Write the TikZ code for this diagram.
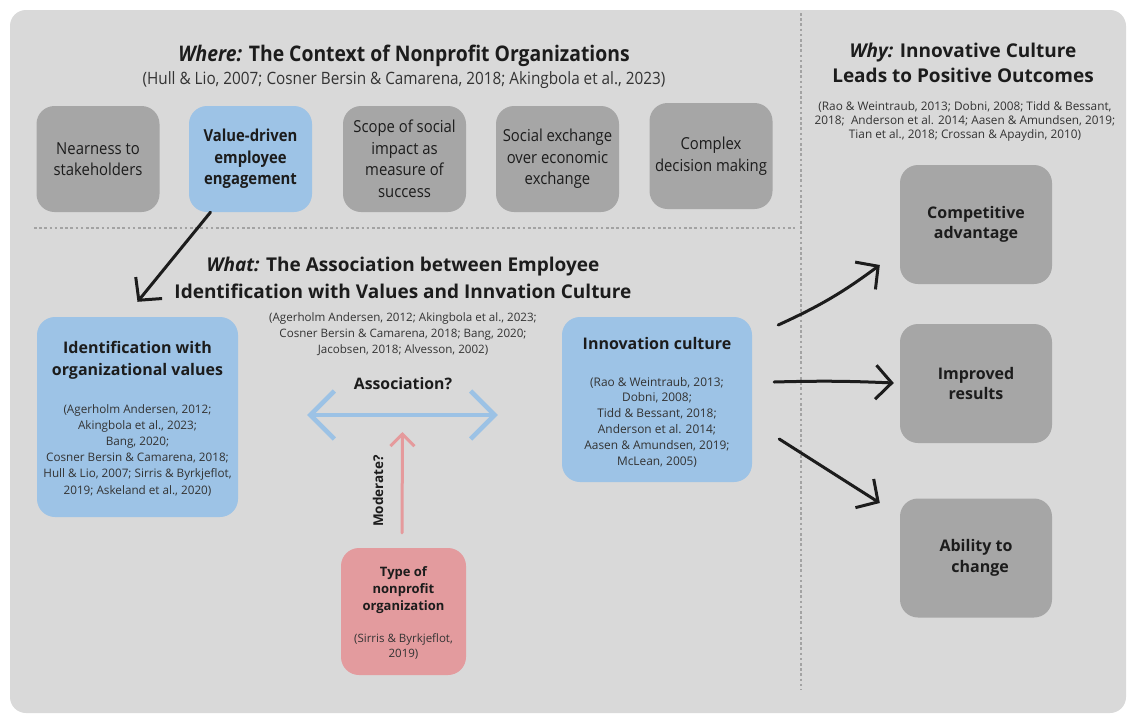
\documentclass[tikz,border=0pt]{standalone}
\usepackage{fontspec}
\setmainfont{Open Sans}
\newfontfamily\condfont[FakeStretch=0.9]{Open Sans}
\usetikzlibrary{arrows.meta,calc}

\definecolor{panel}{HTML}{D9D9D9}
\definecolor{boxgray}{HTML}{A6A6A6}
\definecolor{boxblue}{HTML}{9DC3E6}
\definecolor{boxred}{HTML}{E39B9E}
\definecolor{ink}{HTML}{1C1C1C}
\definecolor{citeink}{HTML}{333333}
\definecolor{dotline}{HTML}{A3A3A3}
\definecolor{assoblue}{HTML}{9CC2E5}
\definecolor{modred}{HTML}{E59A9C}

\newcommand\fsz[2]{\fontsize{#1}{#2}\selectfont}

\begin{document}
\begin{tikzpicture}[x=1pt,y=-1pt,
  card/.style={rounded corners=18pt, inner sep=0pt, align=center, text=ink},
  topcard/.style={card, minimum width=123pt, minimum height=106pt},
  outcard/.style={card, fill=boxgray, minimum width=152pt, minimum height=119pt,
    font=\bfseries\fsz{16}{20.5}},
  txt/.style={inner sep=0pt, align=center, text=ink},
  cite/.style={inner sep=0pt, align=center, text=citeink},
  divider/.style={dotline, line width=2.6pt, dash pattern=on 2.6pt off 2.6pt},
  inkarrow/.style={ink, line width=3pt, line cap=round,
    -{Straight Barb[length=16pt, width=34pt, line width=3pt]}},
  assoarrow/.style={assoblue, line width=4.5pt, line cap=round,
    {Straight Barb[length=24pt, width=48pt, line width=4.5pt]}-{Straight Barb[length=24pt, width=48pt, line width=4.5pt]}},
  modarrow/.style={modred, line width=3pt, line cap=round,
    -{Straight Barb[length=12pt, width=24pt, line width=3pt]}}
]
\useasboundingbox (0,0) rectangle (1127,715);
\fill[white] (0,0) rectangle (1127,715);
\fill[panel, rounded corners=16pt] (10,10) rectangle (1126,713);

% section dividers
\draw[divider] (801,13) -- (801,690);
\draw[divider] (34,228) -- (795,228);

% ---------- Where ----------
\node[txt, font=\condfont\bfseries\fsz{21.5}{25}] (whereT) at (404,56)
  {\textit{Where:} The Context of Nonprofit Organizations};
\node[cite, font=\condfont\fsz{17}{20}] (whereC) at (404,80)
  {(Hull \& Lio, 2007; Cosner Bersin \& Camarena, 2018; Akingbola et al., 2023)};

\begin{scope}[every node/.append style={font=\condfont\fsz{16.5}{21.5}, text=citeink}]
\node[topcard, fill=boxgray] (near) at (98,159) {Nearness to\\stakeholders};
\node[topcard, fill=boxblue, text=ink, font=\condfont\bfseries\fsz{16.5}{21.5}] (vde) at (250.5,159)
  {Value-driven\\employee\\engagement};
\node[topcard, fill=boxgray] (scope) at (404.5,159) {Scope of social\\impact as\\measure of\\success};
\node[topcard, fill=boxgray] (sx) at (557.5,159) {Social exchange\\over economic\\exchange};
\node[topcard, fill=boxgray] (cdm) at (711,156) {Complex\\decision making};
\end{scope}

% ---------- What ----------
\node[txt, font=\bfseries\fsz{19}{27}] (whatT) at (403,278)
  {\textit{What:} The Association between Employee\\Identification with Values and Innvation Culture};
\node[cite, font=\fsz{11.6}{16}] (whatC) at (403,334)
  {(Agerholm Andersen, 2012; Akingbola et al., 2023;\\Cosner Bersin \& Camarena, 2018; Bang, 2020;\\Jacobsen, 2018; Alvesson, 2002)};

\node[card, fill=boxblue, minimum width=201pt, minimum height=200pt] (ident) at (137.5,417) {};
\node[txt, font=\bfseries\fsz{16}{22}] (identT) at (137.5,360) {Identification with\\organizational values};
\node[cite, font=\fsz{11.7}{16.2}] (identC) at (137.5,450)
  {(Agerholm Andersen, 2012;\\Akingbola et al., 2023;\\Bang, 2020;\\Cosner Bersin \& Camarena, 2018;\\Hull \& Lio, 2007; Sirris \& Byrkjeflot,\\2019; Askeland et al., 2020)};

\node[card, fill=boxblue, minimum width=190pt, minimum height=165pt] (innov) at (657,399.5) {};
\node[txt, font=\bfseries\fsz{16}{21}] (innovT) at (657,343) {Innovation culture};
\node[cite, font=\fsz{11.9}{15.8}] (innovC) at (657,422)
  {(Rao \& Weintraub, 2013;\\Dobni, 2008;\\Tidd \& Bessant, 2018;\\Anderson et al. 2014;\\Aasen \& Amundsen, 2019;\\McLean, 2005)};

\node[card, fill=boxred, minimum width=125pt, minimum height=127pt] (npo) at (403.5,611.5) {};
\node[txt, font=\bfseries\fsz{13}{17}] (npoT) at (403.5,590) {Type of\\nonprofit\\organization};
\node[cite, font=\fsz{11.5}{15}] (npoC) at (403.5,647) {(Sirris \& Byrkjeflot,\\2019)};

\node[txt, font=\bfseries\fsz{15.8}{18}] (assoT) at (403,384) {Association?};

\coordinate (assoL) at ($(ident.east)+(69,-2)$);
\coordinate (assoR) at ($(innov.west)+(-64,15.5)$);
\coordinate (modTip) at ($(assoL)!0.5!(assoR)+(0,17)$);
\draw[assoarrow] (assoL) -- (assoR);
\draw[modarrow] ($(npo.north)+(-1.5,-15)$) -- (modTip);
\node[txt, font=\bfseries\fsz{13.5}{15}, rotate=90] (modT) at (378,491) {Moderate?};

% ---------- Why ----------
\node[txt, font=\bfseries\fsz{19}{25}] (whyT) at (963,63)
  {\textit{Why:} Innovative Culture\\Leads to Positive Outcomes};
\node[cite, font=\fsz{11.8}{14}] (whyC) at (965,121.5)
  {(Rao \& Weintraub, 2013; Dobni, 2008; Tidd \& Bessant,\\2018;\ \ Anderson et al. 2014; Aasen \& Amundsen, 2019;\\Tian et al., 2018; Crossan \& Apaydin, 2010)};

\node[outcard] (comp) at (976,224.5) {Competitive\\advantage};
\node[outcard] (impr) at (976,383.5) {Improved\\results};
\node[outcard] (abil) at (976,558) {Ability to\\\ \ change};

% ---------- connectors ----------
\draw[inkarrow] ($(vde.south)+(-40,0)$) -- ($(ident.north)+(0,-15)$);
\draw[inkarrow] ($(innov.east)+(26,-74.5)$) to[bend right=6] ($(comp.west)+(-20,40.5)$);
\draw[inkarrow] ($(innov.east)+(22,-17.5)$) to[bend left=2] ($(impr.west)+(-6,-0.5)$);
\draw[inkarrow] ($(innov.east)+(27,39.5)$) -- ($(abil.west)+(-20,-55)$);
\end{tikzpicture}
\end{document}
